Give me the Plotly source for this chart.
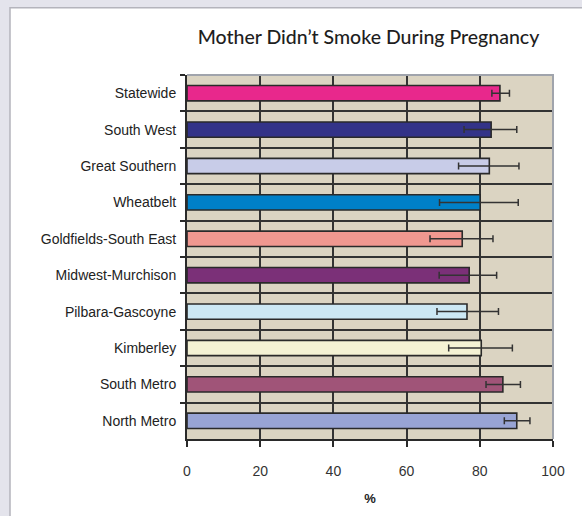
import plotly.graph_objects as go

categories = ["Statewide", "South West", "Great Southern", "Wheatbelt",
              "Goldfields-South East", "Midwest-Murchison", "Pilbara-Gascoyne",
              "Kimberley", "South Metro", "North Metro"]
values = [85.5, 83.1, 82.6, 80.1, 75.2, 77.1, 76.5, 80.4, 86.3, 90.1]
lower = [83.3, 75.7, 74.2, 69.0, 66.4, 68.9, 68.3, 71.5, 81.7, 86.7]
upper = [88.1, 90.1, 90.7, 90.5, 83.6, 84.6, 85.1, 88.9, 91.1, 93.7]
colors = ["#e8288c", "#333388", "#c8cce8", "#0080c8", "#f09890",
          "#7b3078", "#cce8f4", "#f4f2d4", "#a05478", "#98a4d4"]
x_ticks = [0, 20, 40, 60, 80, 100]

err_plus = [u - v for u, v in zip(upper, values)]
err_minus = [v - l for v, l in zip(values, lower)]

W, H = 582, 516
L, R, T, B = 187, 29, 75, 73
pw, ph = W - L - R, H - T - B

def px_x(p):
    return (p - L) / pw

def px_y(p):
    return (H - B - p) / ph

fig = go.Figure()
fig.add_trace(go.Bar(
    y=categories, x=values, orientation="h",
    width=0.42,
    marker=dict(color=colors, line=dict(color="#2a2a2a", width=1.6)),
    error_x=dict(type="data", symmetric=False, array=err_plus, arrayminus=err_minus,
                 color="#333333", thickness=1.5, width=3.5),
    showlegend=False,
))

shapes = [
    # white panel
    dict(type="rect", xref="paper", yref="paper", layer="below",
         x0=px_x(10), x1=px_x(600), y0=px_y(7), y1=px_y(530),
         fillcolor="white", line=dict(color="#b4b4bc", width=1.5)),
    # beige plot area
    dict(type="rect", xref="paper", yref="paper", layer="below",
         x0=0, x1=1, y0=0, y1=1, fillcolor="#dbd4c2", line=dict(width=0)),
    # gray top and right border of plot area
    dict(type="path", xref="paper", yref="paper", layer="above",
         path="M 0 1 L 1 1 L 1 0", line=dict(color="#a0a4ac", width=2)),
]

fig.update_layout(
    width=W, height=H,
    margin=dict(l=L, r=R, t=T, b=B, pad=0),
    paper_bgcolor="#e4e4ec",
    plot_bgcolor="#dbd4c2",
    shapes=shapes,
    title=dict(text="Mother Didn\u2019t Smoke During Pregnancy",
               font=dict(family="Lato", size=19.5, color="#1e1e1e", weight=500),
               xref="container", yref="container",
               x=368.5 / W, xanchor="center", y=1 - 37 / H, yanchor="middle"),
    xaxis=dict(range=[0, 100], tickvals=x_ticks, ticktext=[str(v) for v in x_ticks],
               showgrid=True, gridcolor="#333333", gridwidth=1.8,
               showline=True, linecolor="#2a2a2a", linewidth=2,
               ticks="outside", ticklen=6, tickcolor="#2a2a2a", tickwidth=1.5,
               ticklabelstandoff=12,
               tickfont=dict(family="Liberation Sans", size=14, color="#333333"),
               title=dict(text="<b>%</b>", standoff=16,
                          font=dict(family="Liberation Sans", size=13, color="#222222")),
               zeroline=False, fixedrange=True),
    yaxis=dict(autorange="reversed", type="category", tickson="boundaries",
               showgrid=True, gridcolor="#333333", gridwidth=1.8,
               showline=True, linecolor="#2a2a2a", linewidth=2,
               ticks="outside", ticklen=5, tickcolor="#2a2a2a", tickwidth=1.5,
               ticklabelstandoff=6,
               tickfont=dict(family="Liberation Sans", size=14, color="#222222"),
               fixedrange=True),
)

fig.write_html(
    "out.html",
    config={"displayModeBar": False},
    post_script="document.body.style.margin='0';document.body.style.overflow='hidden';",
)
